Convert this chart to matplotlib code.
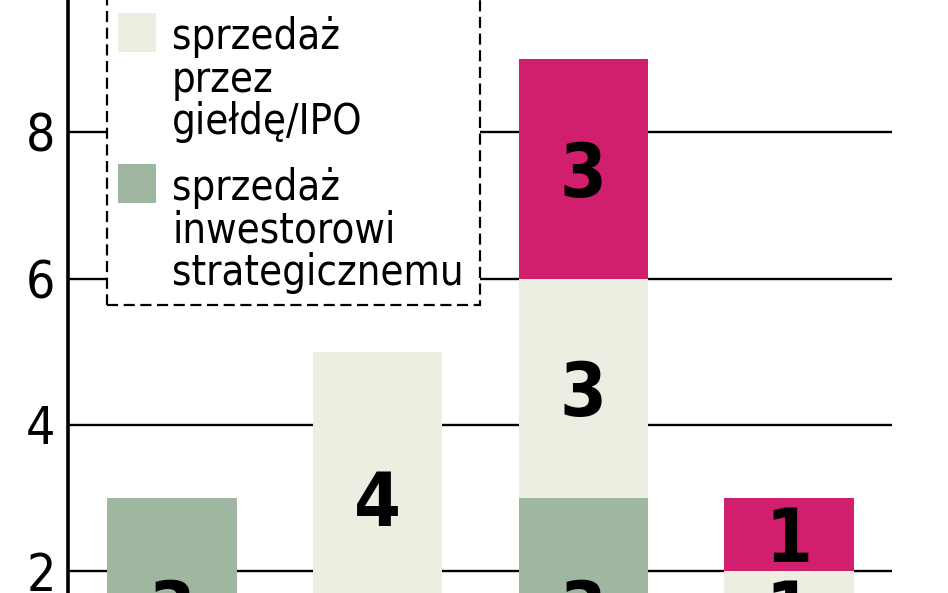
import matplotlib
matplotlib.use('Agg')
import matplotlib.pyplot as plt
from matplotlib.patches import Rectangle
import numpy as np

# segment values per bar, bottom to top
strategic = [3, 1, 3, 1]
ipo = [0, 4, 3, 1]
other = [0, 0, 3, 1]

series_labels = ['sprzedaż\nprzez\ngiełdę/IPO', 'sprzedaż\ninwestorowi\nstrategicznemu']
yticks = [2, 4, 6, 8]

green = '#9fb7a1'
beige = '#eceee2'
pink = '#d11f6d'

W, H = 948, 593
fig = plt.figure(figsize=(W / 100, H / 100), dpi=100)
ax = fig.add_axes([68 / W, 0, 824 / W, 1])

x = np.arange(len(strategic))
bottom = np.zeros(len(strategic))
for vals, col in [(strategic, green), (ipo, beige), (other, pink)]:
    vals = np.array(vals)
    ax.bar(x, vals, width=0.63, bottom=bottom, color=col, zorder=3)
    for xi, b, v in zip(x, bottom, vals):
        # segment labels below the visible area are skipped
        if v > 0 and b + v / 2 > 1.2:
            ax.text(xi, b + v / 2 - 0.1, str(v), ha='center', va='center',
                    fontsize=54, fontweight='bold', fontstretch='condensed',
                    color='black', zorder=4)
    bottom = bottom + vals

ax.set_xlim(-0.505, 3.5)
ax.set_ylim(1.70, 9.81)
ax.set_yticks(yticks)
ax.set_xticks([])
ax.yaxis.grid(True, color='black', linewidth=1.7)
ax.set_axisbelow(True)
for s in ['top', 'right', 'bottom']:
    ax.spines[s].set_visible(False)
ax.spines['left'].set_linewidth(2.6)
ax.tick_params(axis='y', length=0, pad=9, labelsize=37)
for lab in ax.get_yticklabels():
    lab.set_fontstretch('condensed')


def fx(px):
    return px / W


def fy(py):
    return 1 - py / H


# legend box (top runs off the picture)
fig.add_artist(Rectangle((fx(107), fy(305)), fx(480) - fx(107), 0.8,
                         transform=fig.transFigure, facecolor='white',
                         edgecolor='black', linewidth=1.6,
                         linestyle=(0, (5, 2.5)), zorder=5))

entries = [(beige, 13, series_labels[0]), (green, 164, series_labels[1])]
for col, top, label in entries:
    fig.add_artist(Rectangle((fx(118), fy(top + 39)), fx(38), 39 / H,
                             transform=fig.transFigure, facecolor=col,
                             edgecolor='none', zorder=6))
    for i, line in enumerate(label.split('\n')):
        fig.text(fx(172), fy(top + 36 + i * 42.5), line, ha='left', va='baseline',
                 fontsize=30, fontstretch='condensed', color='black', zorder=7)

fig.savefig('out.png', dpi=100)
